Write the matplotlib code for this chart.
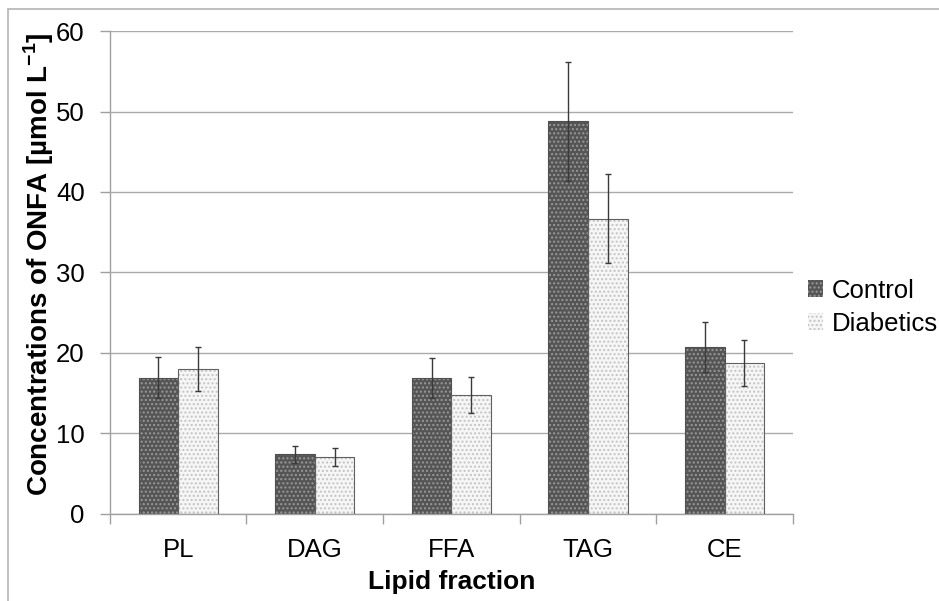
import matplotlib
matplotlib.use('Agg')
import matplotlib.pyplot as plt
import numpy as np
from matplotlib.patches import Rectangle, Patch

# 数据
categories = ['PL', 'DAG', 'FFA', 'TAG', 'CE']
control = [16.9, 7.4, 16.9, 48.8, 20.7]
control_err = [2.55, 1.05, 2.5, 7.4, 3.1]
diabetics = [18.0, 7.1, 14.8, 36.7, 18.8]
diabetics_err = [2.7, 1.1, 2.25, 5.5, 2.85]
series_names = ['Control', 'Diabetics']

plt.rcParams['font.family'] = ['Liberation Sans', 'DejaVu Sans']
plt.rcParams['mathtext.fontset'] = 'custom'
plt.rcParams['mathtext.rm'] = 'Liberation Sans'
plt.rcParams['mathtext.bf'] = 'Liberation Sans:bold'
plt.rcParams['hatch.linewidth'] = 1.0

fs = 18.5

fig = plt.figure(figsize=(9.39, 6.01), dpi=100)
ax = fig.add_axes([0.117, 0.1448, 0.7275, 0.8036])

# 外框
fig.patches.append(Rectangle((8 / 939, -0.02), 1.05, (601 - 9) / 601 + 0.02,
                             transform=fig.transFigure, fill=False,
                             edgecolor='#b4b4b4', linewidth=1.2))

x = np.arange(len(categories))
w = 0.29

# 对照组：深灰点阵
ax.bar(x - w / 2, control, w, color='#555555', edgecolor='#999999',
       hatch='....', linewidth=0, zorder=2)
ax.bar(x - w / 2, control, w, fill=False, edgecolor='#505050',
       linewidth=0.8, zorder=3)
# 糖尿病组：浅色点阵
ax.bar(x + w / 2, diabetics, w, color='#f6f6f6', edgecolor='#c4c4c4',
       hatch='....', linewidth=0, zorder=2)
ax.bar(x + w / 2, diabetics, w, fill=False, edgecolor='#606060',
       linewidth=0.8, zorder=3)

ax.errorbar(x - w / 2, control, yerr=control_err, fmt='none',
            ecolor='#3a3a3a', elinewidth=1.0, capsize=2.5, capthick=1.0, zorder=4)
ax.errorbar(x + w / 2, diabetics, yerr=diabetics_err, fmt='none',
            ecolor='#3a3a3a', elinewidth=1.0, capsize=2.5, capthick=1.0, zorder=4)

ax.set_xlim(-0.5, len(categories) - 0.5)
ax.set_ylim(0, 60)
ax.set_yticks(np.arange(0, 61, 10))
ax.yaxis.grid(True, color='#aaaaaa', linewidth=1.0, zorder=0)
ax.set_axisbelow(True)

ax.set_xticks(x)
ax.set_xticklabels(categories)
ax.set_xticks(np.arange(-0.5, len(categories)), minor=True)
ax.tick_params(axis='x', which='major', length=0, pad=17, labelsize=fs)
ax.tick_params(axis='x', which='minor', length=7, color='#a0a0a0', width=1)
ax.tick_params(axis='y', length=7, color='#a0a0a0', width=1, labelsize=fs, pad=11)

for s in ['top', 'right']:
    ax.spines[s].set_visible(False)
for s in ['left', 'bottom']:
    ax.spines[s].set_color('#a0a0a0')
    ax.spines[s].set_linewidth(1.0)

ax.set_xlabel('Lipid fraction', fontsize=19, fontweight='bold', labelpad=6)
ax.set_ylabel(r'Concentrations of ONFA [µmol L$^{\mathbf{-1}}$]',
              fontsize=20, fontweight='bold')
ax.yaxis.set_label_coords(-0.104, 0.518)
ax.yaxis.label.set_verticalalignment('center')

handles = [Patch(facecolor='#555555', edgecolor='#999999', hatch='....', linewidth=0),
           Patch(facecolor='#f6f6f6', edgecolor='#c4c4c4', hatch='....', linewidth=0)]
fig.legend(handles, series_names, loc='center left',
           bbox_to_anchor=(0.86, 0.489), frameon=False, fontsize=fs,
           handlelength=0.6, handleheight=0.6, handletextpad=0.35,
           labelspacing=0.35, borderaxespad=0, borderpad=0)

fig.savefig('out.png', dpi=100)
